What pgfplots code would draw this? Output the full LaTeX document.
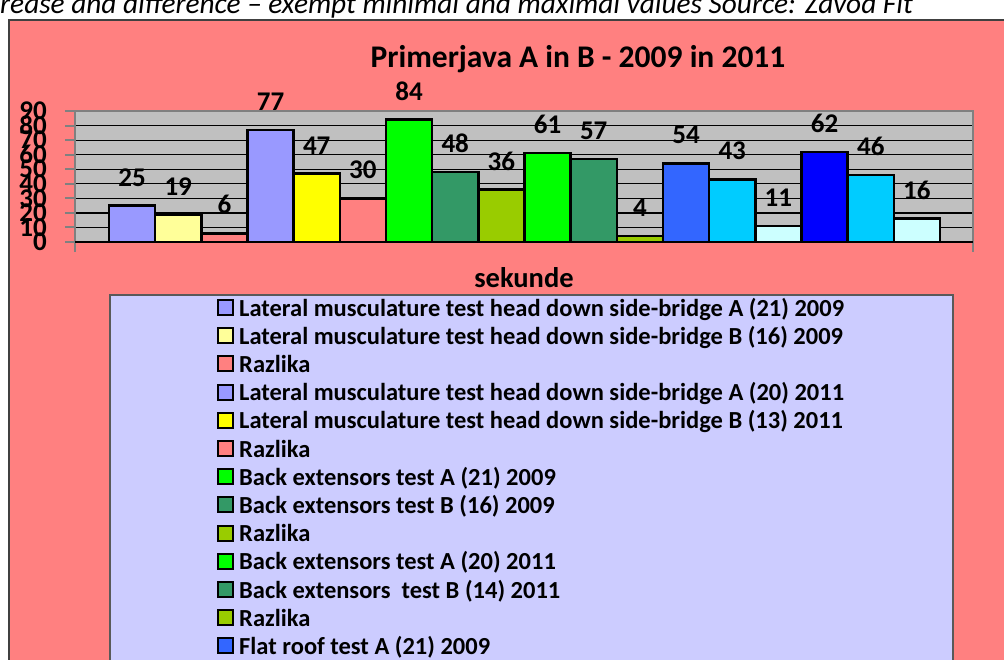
\documentclass[border=0pt]{standalone}
\usepackage{fontspec}
\setmainfont{Carlito}
\usepackage{pgfplots}
\pgfplotsset{compat=1.18}
\definecolor{salmon}{HTML}{FF8080}
\definecolor{plotbg}{HTML}{C0C0C0}
\definecolor{legbg}{HTML}{CCCCFF}
\definecolor{cA}{HTML}{9999FF}
\definecolor{cB}{HTML}{FFFF99}
\definecolor{cC}{HTML}{FF8080}
\definecolor{cD}{HTML}{FFFF00}
\definecolor{cE}{HTML}{00FF00}
\definecolor{cF}{HTML}{339966}
\definecolor{cG}{HTML}{99CC00}
\definecolor{cH}{HTML}{3366FF}
\definecolor{cI}{HTML}{00CCFF}
\definecolor{cJ}{HTML}{CCFFFF}
\definecolor{cK}{HTML}{0000FF}
\definecolor{axgray}{HTML}{808080}
\begin{document}
\begin{tikzpicture}
\useasboundingbox (0pt,0pt) rectangle (1004pt,-659pt);
\clip (0pt,0pt) rectangle (1004pt,-659pt);
\fill[salmon] (9pt,-20pt) rectangle (1010pt,-670pt);
\draw[black!75, line width=2pt] (9pt,-670pt) -- (9pt,-20pt) -- (1010pt,-20pt);
\node[anchor=base west, inner sep=0pt, font=\fontsize{29.3}{34}\selectfont\itshape] at (0pt,-13pt) {rease and difference – exempt minimal and maximal values Source: Zavod Fit};
\node[anchor=base, inner sep=0pt, font=\fontsize{31.5}{36}\selectfont\bfseries] at (578pt,-67pt) {Primerjava A in B - 2009 in 2011};
\filldraw[fill=legbg, draw=black!65, line width=1.5pt] (110pt,-295pt) rectangle (953pt,-720pt);
\begin{axis}[
  at={(75pt,-242pt)}, anchor=south west,
  scale only axis, width=898pt, height=131pt,
  ybar, bar width=1, bar shift=0pt,
  xmin=-0.236, xmax=19.215, ymin=0, ymax=90,
  ytick={0,10,...,90},
  xtick={-0.236,19.215}, xticklabels={},
  tick pos=left, tick align=outside, major tick length=10pt,
  tick style={axgray, line width=2pt},
  axis line style={axgray, line width=2.5pt},
  axis background/.style={fill=plotbg},
  ymajorgrids, grid style={black, line width=1.2pt},
  /pgf/number format/assume math mode=true,
  yticklabel style={font=\fontsize{27}{27}\selectfont\bfseries, inner sep=0pt, xshift=-18pt},
  xlabel={sekunde},
  xlabel style={at={(axis description cs:0.5,-0.3435)}, anchor=base, inner sep=0pt, font=\fontsize{28.5}{32}\selectfont\bfseries},
  nodes near coords,
  every node near coord/.append style={font=\fontsize{27}{27}\selectfont\bfseries, inner sep=0pt, yshift=18pt, black},
  legend cell align=left,
  legend style={at={(axis description cs:0.1581,-0.4275)}, anchor=north west, draw=none, fill=none,
    inner sep=0pt, outer sep=0pt, row sep=5.2pt, column sep=0pt,
    font=\fontsize{24.5}{28}\selectfont\bfseries,
    nodes={inner sep=0pt, text height=18pt, text depth=5pt}},
  legend image code/.code={\draw[#1, line width=2pt, draw=black] (0pt,-5.5pt) rectangle (15pt,9.5pt); \path (20pt,0pt);},
]
\addplot[fill=cA, draw=black, line width=2.5pt] coordinates {(1,25)};
\addlegendentry{Lateral musculature test head down side-bridge A (21) 2009}
\addplot[fill=cB, draw=black, line width=2.5pt] coordinates {(2,19)};
\addlegendentry{Lateral musculature test head down side-bridge B (16) 2009}
\addplot[fill=cC, draw=black, line width=2.5pt] coordinates {(3,6)};
\addlegendentry{Razlika}
\addplot[fill=cA, draw=black, line width=2.5pt] coordinates {(4,77)};
\addlegendentry{Lateral musculature test head down side-bridge A (20) 2011}
\addplot[fill=cD, draw=black, line width=2.5pt] coordinates {(5,47)};
\addlegendentry{Lateral musculature test head down side-bridge B (13) 2011}
\addplot[fill=cC, draw=black, line width=2.5pt] coordinates {(6,30)};
\addlegendentry{Razlika}
\addplot[fill=cE, draw=black, line width=2.5pt] coordinates {(7,84)};
\addlegendentry{Back extensors test A (21) 2009}
\addplot[fill=cF, draw=black, line width=2.5pt] coordinates {(8,48)};
\addlegendentry{Back extensors test B (16) 2009}
\addplot[fill=cG, draw=black, line width=2.5pt] coordinates {(9,36)};
\addlegendentry{Razlika}
\addplot[fill=cE, draw=black, line width=2.5pt] coordinates {(10,61)};
\addlegendentry{Back extensors test A (20) 2011}
\addplot[fill=cF, draw=black, line width=2.5pt] coordinates {(11,57)};
\addlegendentry{Back extensors\ \ test B (14) 2011}
\addplot[fill=cG, draw=black, line width=2.5pt] coordinates {(12,4)};
\addlegendentry{Razlika}
\addplot[fill=cH, draw=black, line width=2.5pt] coordinates {(13,54)};
\addlegendentry{Flat roof test A (21) 2009}
\addplot[fill=cI, draw=black, line width=2.5pt] coordinates {(14,43)};
\addlegendentry{Flat roof test B (16) 2009}
\addplot[fill=cJ, draw=black, line width=2.5pt] coordinates {(15,11)};
\addlegendentry{Razlika}
\addplot[fill=cK, draw=black, line width=2.5pt] coordinates {(16,62)};
\addlegendentry{Flat roof test A (20) 2011}
\addplot[fill=cI, draw=black, line width=2.5pt] coordinates {(17,46)};
\addlegendentry{Flat roof test B (13) 2011}
\addplot[fill=cJ, draw=black, line width=2.5pt] coordinates {(18,16)};
\addlegendentry{Razlika}
\draw[black, line width=2.5pt] (axis cs:-0.236,0) -- (axis cs:19.215,0);
\end{axis}
\end{tikzpicture}
\end{document}
